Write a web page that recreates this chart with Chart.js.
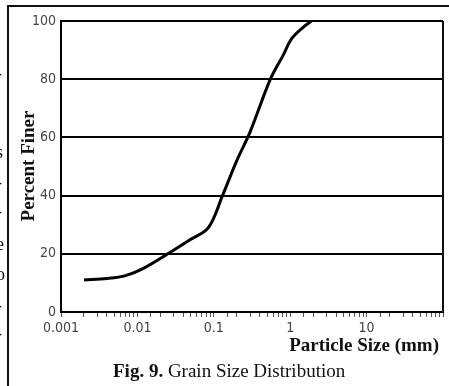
<!DOCTYPE html>
<html>
<head>
<meta charset="utf-8">
<script src="https://cdn.jsdelivr.net/npm/chart.js@4"></script>
<style>
  html, body { margin: 0; padding: 0; background: #fff; }
  #wrap { width: 449px; height: 386px; }
</style>
</head>
<body>
<div id="wrap"><canvas id="chart" width="449" height="386"></canvas></div>
<script>
// grain size curve (mm, % finer)
const particleSize = [0.002, 0.004, 0.007, 0.012, 0.025, 0.05, 0.085, 0.13, 0.2, 0.3, 0.55, 0.8, 1.05, 1.5, 1.9];
const percentFiner = [11, 11.5, 12.5, 15, 20, 25, 29, 40, 52, 62, 80, 88, 94, 98, 100];
const xLabelValues = [0.001, 0.01, 0.1, 1, 10];
const yTicks = [0, 20, 40, 60, 80, 100];

const SERIF = "'Liberation Serif', 'Times New Roman', serif";
const NARROW = "'Liberation Sans Narrow', 'DejaVu Sans Condensed', sans-serif";

// page frame, stray text from the neighbouring column and the captions
const pageText = {
  id: "pageText",
  afterDraw(chart) {
    const { ctx, chartArea: a } = chart;
    ctx.save();
    ctx.strokeStyle = "#111";
    ctx.lineWidth = 2;
    ctx.beginPath();
    ctx.moveTo(449, 6);
    ctx.lineTo(8, 6);
    ctx.lineTo(8, 386);
    ctx.stroke();

    ctx.beginPath();
    ctx.moveTo(a.right, a.top);
    ctx.lineTo(a.right, a.bottom);
    ctx.stroke();

    ctx.fillStyle = "#111";
    ctx.font = "18px " + SERIF;
    ctx.textBaseline = "middle";
    ctx.textAlign = "left";
    [["-", 74], ["s", 153], ["-", 183], ["-", 212], ["e", 245], ["o", 275], ["-", 306], ["-", 334]].forEach(([t, y]) => {
      ctx.fillText(t, -4, y);
    });

    ctx.save();
    ctx.translate(29, 166);
    ctx.rotate(-Math.PI / 2);
    ctx.textAlign = "center";
    ctx.font = "bold 19px " + SERIF;
    ctx.fillText("Percent Finer", 0, 0);
    ctx.restore();

    ctx.textAlign = "right";
    ctx.font = "bold 19px " + SERIF;
    ctx.fillText("Particle Size (mm)", 439, 346);

    ctx.textAlign = "left";
    ctx.font = "bold 19px " + SERIF;
    const fig = "Fig. 9. ";
    ctx.fillText(fig, 113, 372);
    const w = ctx.measureText(fig).width;
    ctx.font = "19px " + SERIF;
    ctx.fillText("Grain Size Distribution", 113 + w, 372);
    ctx.restore();
  },
};

new Chart(document.getElementById("chart"), {
  type: "line",
  data: {
    datasets: [{
      data: particleSize.map((x, i) => ({ x, y: percentFiner[i] })),
      borderColor: "#000",
      borderWidth: 3,
      pointRadius: 0,
      tension: 0.35,
      fill: false,
    }],
  },
  options: {
    responsive: false,
    animation: false,
    layout: { padding: { top: 21, right: 6, left: 0, bottom: 0 } },
    plugins: { legend: { display: false }, tooltip: { enabled: false } },
    scales: {
      x: {
        type: "logarithmic",
        min: 0.001,
        max: 100,
        afterFit(scale) { scale.height = 74; },
        border: { color: "#000", width: 2 },
        grid: { drawOnChartArea: false, color: "#555", tickLength: 5, lineWidth: 1 },
        ticks: {
          autoSkip: false,
          maxRotation: 0,
          padding: 3,
          color: "#444",
          font: { family: NARROW, size: 14 },
          callback(value) {
            return xLabelValues.includes(value) ? String(value) : "";
          },
        },
      },
      y: {
        min: 0,
        max: 100,
        afterFit(scale) { scale.width = 61; },
        afterBuildTicks(scale) { scale.ticks = yTicks.map((v) => ({ value: v })); },
        border: { color: "#000", width: 2 },
        grid: { color: "#000", lineWidth: 2, drawTicks: false },
        ticks: {
          padding: 5,
          color: "#444",
          font: { family: NARROW, size: 14 },
        },
      },
    },
  },
  plugins: [pageText],
});
</script>
</body>
</html>
